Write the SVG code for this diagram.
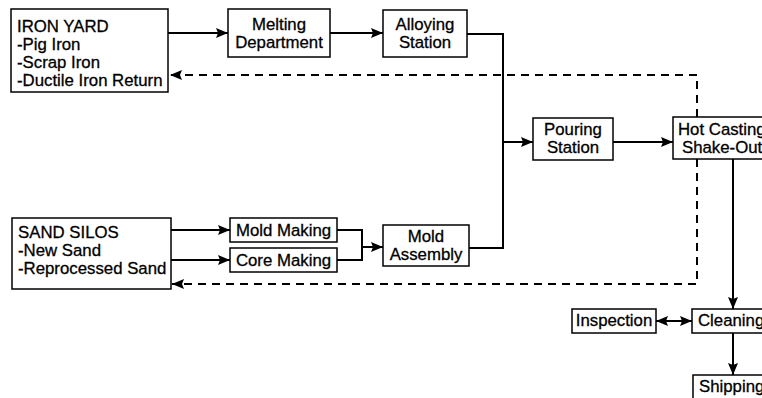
<svg xmlns="http://www.w3.org/2000/svg" width="762" height="398" viewBox="0 0 762 398">
<defs>
<style>
.box{fill:#fff;stroke:#000;stroke-width:1.5}
.t{font-family:"Liberation Sans",Arial,sans-serif;font-size:16.8px;fill:#000;stroke:#000;stroke-width:0.3}
.c{text-anchor:middle}
.ln{fill:none;stroke:#000;stroke-width:2}
.ds{fill:none;stroke:#000;stroke-width:2;stroke-dasharray:8 6}
</style>
<marker id="ah" viewBox="0 0 12 10" refX="12" refY="5" markerWidth="12" markerHeight="10" markerUnits="userSpaceOnUse" orient="auto-start-reverse">
<path d="M0,0 L12,5 L0,10 L2,5 Z" fill="#000"/>
</marker>
</defs>
<rect width="762" height="398" fill="#fff"/>
<g id="connectors">
<line class="ln" x1="168" y1="33" x2="228" y2="33" marker-end="url(#ah)"/>
<line class="ln" x1="330" y1="33" x2="383" y2="33" marker-end="url(#ah)"/>
<polyline class="ln" points="467,34 503,34 503,248 469,248"/>
<line class="ln" x1="503" y1="142" x2="533" y2="142" marker-end="url(#ah)"/>
<line class="ln" x1="613" y1="142" x2="673" y2="142" marker-end="url(#ah)"/>
<polyline class="ds" points="697,117 697,75 170,75" marker-end="url(#ah)"/>
<polyline class="ds" points="697,159 697,284 172,284" marker-end="url(#ah)"/>
<line class="ln" x1="171" y1="230" x2="230" y2="230" marker-end="url(#ah)"/>
<line class="ln" x1="171" y1="260" x2="230" y2="260" marker-end="url(#ah)"/>
<polyline class="ln" points="337,230 362,230 362,260 337,260"/>
<line class="ln" x1="362" y1="247" x2="383" y2="247" marker-end="url(#ah)"/>
<line class="ln" x1="733" y1="159" x2="733" y2="309" marker-end="url(#ah)"/>
<line class="ln" x1="656" y1="321" x2="692" y2="321" marker-start="url(#ah)" marker-end="url(#ah)"/>
<line class="ln" x1="733" y1="333" x2="733" y2="375" marker-end="url(#ah)"/>
</g>
<g id="iron-yard">
<rect class="box" x="11" y="9" width="157" height="83"/>
<text class="t" x="17" y="32">IRON YARD</text>
<text class="t" x="17" y="50">-Pig Iron</text>
<text class="t" x="17" y="68">-Scrap Iron</text>
<text class="t" x="17" y="86">-Ductile Iron Return</text>
</g>
<g id="melting">
<rect class="box" x="228" y="9" width="102" height="48"/>
<text class="t c" x="279" y="30">Melting</text>
<text class="t c" x="279" y="48">Department</text>
</g>
<g id="alloying">
<rect class="box" x="383" y="10" width="84" height="47"/>
<text class="t c" x="425" y="30">Alloying</text>
<text class="t c" x="425" y="48">Station</text>
</g>
<g id="pouring">
<rect class="box" x="533" y="118" width="80" height="42"/>
<text class="t c" x="573" y="135">Pouring</text>
<text class="t c" x="573" y="153">Station</text>
</g>
<g id="hot-casting">
<rect class="box" x="673" y="117" width="100" height="42"/>
<text class="t" x="678" y="135">Hot Casting</text>
<text class="t" x="682" y="153">Shake-Out</text>
</g>
<g id="sand-silos">
<rect class="box" x="12" y="218" width="159" height="71"/>
<text class="t" x="18" y="238">SAND SILOS</text>
<text class="t" x="18" y="256">-New Sand</text>
<text class="t" x="18" y="274">-Reprocessed Sand</text>
</g>
<g id="mold-making">
<rect class="box" x="230" y="218" width="107" height="24"/>
<text class="t c" x="283.5" y="236">Mold Making</text>
</g>
<g id="core-making">
<rect class="box" x="230" y="248" width="107" height="24"/>
<text class="t c" x="283.5" y="266">Core Making</text>
</g>
<g id="mold-assembly">
<rect class="box" x="383" y="225" width="86" height="41"/>
<text class="t c" x="426" y="242">Mold</text>
<text class="t c" x="426" y="260">Assembly</text>
</g>
<g id="inspection">
<rect class="box" x="572" y="309" width="84" height="24"/>
<text class="t c" x="614" y="326">Inspection</text>
</g>
<g id="cleaning">
<rect class="box" x="692" y="309" width="80" height="24"/>
<text class="t" x="698" y="326">Cleaning</text>
</g>
<g id="shipping">
<rect class="box" x="693" y="375" width="80" height="30"/>
<text class="t" x="699" y="392">Shipping</text>
</g>
</svg>
